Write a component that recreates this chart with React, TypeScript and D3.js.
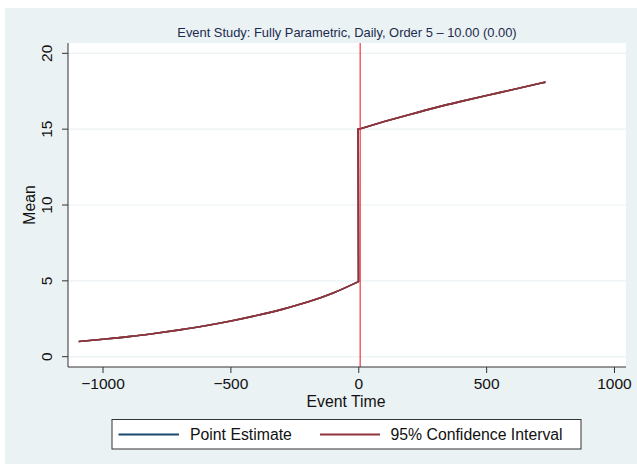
import React from "react";
import * as d3 from "d3";

const preTimes = [-1095, -1000, -900, -800, -700, -600, -500, -400, -300, -200, -100, -1];
const preMean = [1.0, 1.15, 1.32, 1.53, 1.77, 2.04, 2.35, 2.71, 3.12, 3.6, 4.2, 4.95];
const postTimes = [0, 100, 200, 300, 400, 500, 600, 730];
const postMean = [15.0, 15.5, 15.97, 16.42, 16.83, 17.22, 17.6, 18.1];
const xTicks = [-1000, -500, 0, 500, 1000];
const yTicks = [0, 5, 10, 15, 20];
const titleText = "Event Study: Fully Parametric, Daily, Order 5 \u2013 10.00 (0.00)";
const legendLabels = ["Point Estimate", "95% Confidence Interval"];
const seriesColors = ["#1a476f", "#90353b"];

const W = 637;
const H = 464;
const plot = { left: 68, right: 626, top: 43, bottom: 367 };
const FONT = "'Liberation Sans', Arial, Helvetica, sans-serif";

export default function App() {
  const x = d3.scaleLinear().domain([-1137, 1045]).range([plot.left, plot.right]);
  const y = d3.scaleLinear().domain([-0.68, 20.68]).range([plot.bottom, plot.top]);
  const times = [...preTimes, ...postTimes];
  const means = [...preMean, ...postMean];
  const pts: [number, number][] = times.map((t, i) => [t, means[i]]);
  const line = d3
    .line<[number, number]>()
    .x((d) => x(d[0]))
    .y((d) => y(d[1]))
    .curve(d3.curveMonotoneX);
  const preLine = line(pts.slice(0, preTimes.length)) || "";
  const postLine = line(pts.slice(preTimes.length)) || "";
  const jump = `L${x(postTimes[0]) - 0.6},${y(postMean[0])}`;
  const fullPath = preLine + jump + postLine.replace("M", "L");
  const refX = x(0) + 1.4;

  const legY = 434.5;
  return (
    <svg
      width={W}
      height={H}
      style={{ position: "absolute", left: 0, top: 0, display: "block" }}
      fontFamily={FONT}
    >
      <rect x={0} y={0} width={W} height={H} fill="#ffffff" />
      <rect x={5} y={8} width={W - 5} height={H - 8} fill="#eaf2f3" />
      <rect
        x={plot.left}
        y={plot.top}
        width={plot.right - plot.left}
        height={plot.bottom - plot.top}
        fill="#ffffff"
      />
      {yTicks.map((t) => (
        <line
          key={"g" + t}
          x1={plot.left}
          x2={plot.right}
          y1={y(t)}
          y2={y(t)}
          stroke="#eaf2f3"
          strokeWidth={1.2}
        />
      ))}
      <text
        x={(plot.left + plot.right) / 2}
        y={36.5}
        textAnchor="middle"
        fontSize={12.9}
        fill="#1c2b4f"
      >
        {titleText}
      </text>
      {/* series: point estimate then CI bounds (identical) */}
      <path d={fullPath} fill="none" stroke={seriesColors[0]} strokeWidth={1.6} />
      <path d={fullPath} fill="none" stroke={seriesColors[1]} strokeWidth={1.6} />
      <path d={fullPath} fill="none" stroke={seriesColors[1]} strokeWidth={1.6} />
      <line
        x1={refX}
        x2={refX}
        y1={plot.top}
        y2={plot.bottom}
        stroke="#ee2530"
        strokeWidth={1.1}
      />
      {/* axes */}
      <line x1={plot.left} x2={plot.left} y1={plot.top} y2={plot.bottom} stroke="#333" strokeWidth={1} />
      <line x1={plot.left} x2={plot.right} y1={plot.bottom} y2={plot.bottom} stroke="#333" strokeWidth={1} />
      {yTicks.map((t) => (
        <g key={"y" + t}>
          <line x1={plot.left - 6} x2={plot.left} y1={y(t)} y2={y(t)} stroke="#333" strokeWidth={1} />
          <text
            transform={`translate(${52},${y(t)}) rotate(-90)`}
            textAnchor="middle"
            fontSize={15.5}
            fill="#111"
          >
            {t}
          </text>
        </g>
      ))}
      {xTicks.map((t) => (
        <g key={"x" + t}>
          <line x1={x(t)} x2={x(t)} y1={plot.bottom} y2={plot.bottom + 6} stroke="#333" strokeWidth={1} />
          <text x={x(t)} y={389} textAnchor="middle" fontSize={15.5} fill="#111">
            {t < 0 ? "\u2212" + Math.abs(t) : String(t)}
          </text>
        </g>
      ))}
      <text
        transform={`translate(${35},${(plot.top + plot.bottom) / 2}) rotate(-90)`}
        textAnchor="middle"
        fontSize={15.8}
        fill="#111"
      >
        Mean
      </text>
      <text x={346} y={407} textAnchor="middle" fontSize={15.8} fill="#111">
        Event Time
      </text>
      {/* legend */}
      <rect x={112} y={419.5} width={469} height={29.5} fill="#ffffff" stroke="#333" strokeWidth={1} />
      <line x1={118.5} x2={179} y1={legY} y2={legY} stroke={seriesColors[0]} strokeWidth={1.8} />
      <text x={190} y={legY + 5.5} fontSize={15.8} fill="#111">
        {legendLabels[0]}
      </text>
      <line x1={320} x2={380} y1={legY} y2={legY} stroke={seriesColors[1]} strokeWidth={1.8} />
      <text x={390.5} y={legY + 5.5} fontSize={15.8} fill="#111">
        {legendLabels[1]}
      </text>
    </svg>
  );
}
